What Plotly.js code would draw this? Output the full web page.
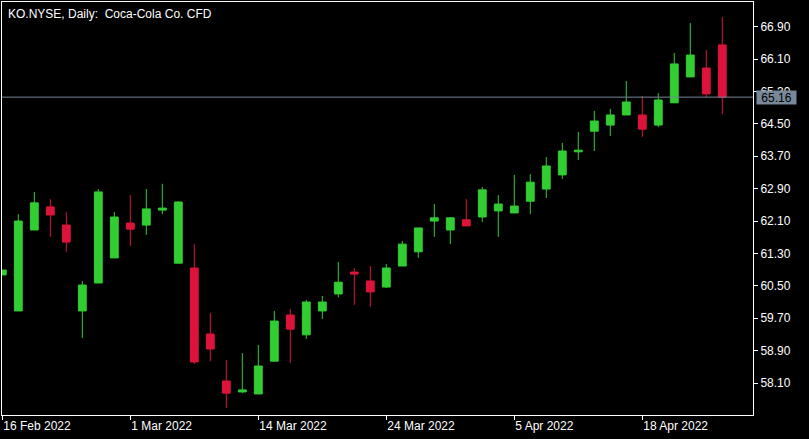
<!DOCTYPE html>
<html>
<head>
<meta charset="utf-8">
<script src="https://cdn.plot.ly/plotly-3.0.1.min.js"></script>
<style>html,body{margin:0;padding:0;background:#000;}#chart{width:809px;height:439px;}</style>
</head>
<body>
<div id="chart"></div>
<script>
const dates = ["2022-02-16","2022-02-17","2022-02-18","2022-02-22","2022-02-23","2022-02-24","2022-02-25","2022-02-28",
  "2022-03-01","2022-03-02","2022-03-03","2022-03-07","2022-03-08","2022-03-09","2022-03-10","2022-03-11",
  "2022-03-14","2022-03-15","2022-03-16","2022-03-17","2022-03-18","2022-03-21","2022-03-22","2022-03-23",
  "2022-03-24","2022-03-25","2022-03-28","2022-03-29","2022-03-30","2022-03-31","2022-04-01","2022-04-04",
  "2022-04-05","2022-04-06","2022-04-07","2022-04-08","2022-04-11","2022-04-12","2022-04-13","2022-04-14",
  "2022-04-18","2022-04-19","2022-04-20","2022-04-21","2022-04-22","2022-04-25"];
const openP  = [60.77,59.88,61.88,62.45,62.00,59.88,60.57,61.19,62.05,62.00,62.37,61.06,60.94,59.31,58.15,57.88,
  57.83,58.64,59.78,59.29,59.88,60.30,60.84,60.62,60.47,60.99,61.34,62.10,61.88,62.13,62.20,62.35,
  62.30,62.59,62.89,63.24,63.81,64.32,64.47,64.72,64.72,64.47,65.02,65.66,65.88,66.45];
const highP  = [60.89,62.27,62.82,62.64,62.32,60.62,62.89,62.32,62.74,62.89,63.02,62.59,61.53,59.83,58.67,58.84,
  59.04,59.88,59.93,60.15,60.25,61.09,60.94,60.99,61.04,61.61,61.93,62.52,62.20,62.64,62.94,62.74,
  63.24,63.26,63.68,64.03,64.30,64.82,64.87,65.56,65.19,65.26,66.25,66.99,66.32,67.14];
const lowP   = [60.77,59.88,61.88,61.71,61.34,59.21,60.57,61.19,61.48,61.76,62.27,61.06,58.57,58.64,57.48,57.85,
  57.83,58.64,58.59,59.19,59.68,60.22,60.03,59.98,60.45,60.99,61.19,61.71,61.53,61.98,62.08,61.71,
  62.30,62.27,62.67,63.14,63.61,63.83,64.20,64.72,64.18,64.42,65.02,65.66,65.16,64.74];
const closeP = [60.89,62.10,62.55,62.25,61.58,60.52,62.82,62.20,61.90,62.40,62.42,62.57,58.62,58.94,57.85,57.93,
  58.52,59.63,59.43,60.10,60.10,60.59,60.79,60.35,60.94,61.53,61.93,62.18,62.18,61.98,62.87,62.52,
  62.47,63.06,63.46,63.83,63.85,64.57,64.72,65.04,64.37,65.09,65.98,66.20,65.24,65.16];
const tickDates  = ["2022-02-16","2022-03-01","2022-03-14","2022-03-24","2022-04-05","2022-04-18"];
const tickLabels = ["16 Feb 2022","1 Mar 2022","14 Mar 2022","24 Mar 2022","5 Apr 2022","18 Apr 2022"];
const yTicks = [58.10,58.90,59.70,60.50,61.30,62.10,62.90,63.70,64.50,65.30,66.10,66.90];
const lastPrice = 65.16;
const titleText = "KO.NYSE, Daily:  Coca-Cola Co. CFD";

const UP = "#32CD32", DOWN = "#DC143C", GREY = "#778899";
const font = {family: "Liberation Sans, Arial, sans-serif", size: 12, color: "#ffffff"};

const trace = {
  type: "candlestick", x: dates, open: openP, high: highP, low: lowP, close: closeP,
  increasing: {line: {color: UP, width: 1}, fillcolor: UP},
  decreasing: {line: {color: DOWN, width: 1}, fillcolor: DOWN},
  whiskerwidth: 0, hoverinfo: "skip"
};

const layout = {
  width: 809, height: 439,
  paper_bgcolor: "#000000", plot_bgcolor: "#000000",
  margin: {l: 2, r: 56, t: 2, b: 24},
  showlegend: false, font: font, dragmode: false,
  xaxis: {
    type: "category", range: [-0.02, 46.92], rangeslider: {visible: false},
    showgrid: false, zeroline: false, showline: true, linecolor: "#ffffff", linewidth: 1, mirror: true,
    ticks: "outside", ticklen: 4, tickcolor: "#ffffff", tickwidth: 1,
    tickvals: tickDates, ticktext: tickLabels, ticklabelposition: "outside right",
    tickfont: font, fixedrange: true
  },
  yaxis: {
    side: "right", range: [57.31, 67.51], showgrid: false, zeroline: false,
    showline: true, linecolor: "#ffffff", linewidth: 1, mirror: true,
    ticks: "outside", ticklen: 4, tickcolor: "#ffffff", tickwidth: 1,
    tickvals: yTicks, ticktext: yTicks.map(v => v.toFixed(2)), tickfont: font, fixedrange: true
  },
  shapes: [{type: "line", xref: "paper", x0: 0, x1: 1, yref: "y", y0: lastPrice, y1: lastPrice,
            line: {color: GREY, width: 1}}],
  annotations: [
    {xref: "paper", yref: "paper", x: 0, y: 1, xanchor: "left", yanchor: "top", xshift: 4, yshift: -3,
     text: titleText, showarrow: false, font: font},
    {xref: "paper", yref: "y", x: 1, y: lastPrice, xanchor: "left", yanchor: "middle", xshift: 3,
     text: lastPrice.toFixed(2), showarrow: false, bgcolor: GREY, width: 39, height: 13, borderpad: 0,
     font: {family: font.family, size: 12, color: "#000000"}}
  ]
};
Plotly.newPlot("chart", [trace], layout, {staticPlot: true, displayModeBar: false});
</script>
</body>
</html>
